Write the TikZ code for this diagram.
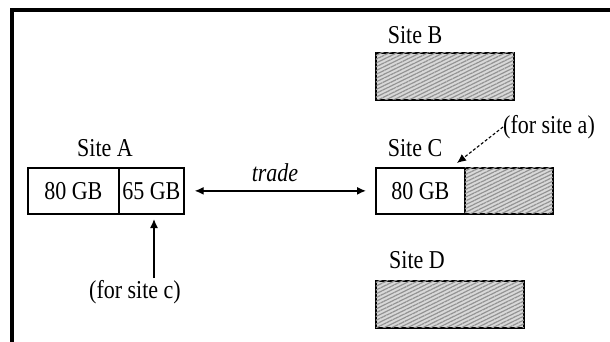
\documentclass[tikz,border=0pt]{standalone}
\usepackage{fontspec}
\setmainfont{Liberation Serif}
\usetikzlibrary{patterns.meta,arrows.meta}
\newcommand{\tx}[1]{\scalebox{1}[1.17]{#1}}
\tikzset{
  box/.style={draw, line width=1.7pt, inner sep=0pt, anchor=north west},
  hatched/.style={fill=gray!30, postaction={pattern={Lines[angle=26,distance=3.4pt,line width=1.2pt]}, pattern color=gray!85}},
  lbl/.style={font=\fontsize{22}{24}\selectfont, inner sep=0pt},
  arr/.style={line width=1.4pt, -{Latex[length=9pt,width=8pt]}},
}
\begin{document}
\begin{tikzpicture}[x=1pt,y=-1pt]
\useasboundingbox (0,0) rectangle (610,341);
\fill[white] (0,0) rectangle (610,341);
% outer frame (cut by the image)
\draw[line width=3.2pt] (12,345) -- (12,10) -- (615,10);
% Site A
\node[box, minimum width=91pt, minimum height=46pt] (a1) at (27,167) {};
\node[box, minimum width=65pt, minimum height=46pt] (a2) at (118,167) {};
\node[lbl] (a1t) at (a1.center) {\tx{80 GB}};
\node[lbl] (a2t) at (a2.center) {\tx{65 GB}};
\node[lbl] (sa) at (105,148) {\tx{Site A}};
% Site C
\node[box, minimum width=89pt, minimum height=46pt] (c1) at (375,167) {};
\node[box, hatched, minimum width=88pt, minimum height=46pt] (c2) at (464,167) {};
\node[lbl] (c1t) at (c1.center) {\tx{80 GB}};
\node[lbl] (sc) at (415,148) {\tx{Site C}};
% Site B
\node[box, hatched, minimum width=138pt, minimum height=47pt] (b) at (375,52) {};
\node[lbl] (sb) at (415,35) {\tx{Site B}};
% Site D
\node[box, hatched, minimum width=148pt, minimum height=47pt] (d) at (375,280) {};
\node[lbl] (sd) at (417,260) {\tx{Site D}};
% trade
\node[lbl, font=\fontsize{22}{24}\selectfont\itshape] (tr) at (275,173) {\tx{trade}};
\draw[line width=1.4pt, {Latex[length=9pt,width=8pt]}-{Latex[length=9pt,width=8pt]}] ([xshift=10pt]a2.east) -- ([xshift=-9pt]c1.west);
% for site c
\node[lbl] (fc) at (135,292) {\tx{(for site c)}};
\coordinate (fcs) at (154,278);
\coordinate (fce) at (154,219);
\draw[arr] (fcs) -- (fce);
% for site a
\node[lbl, anchor=west] (fa) at (503,127) {\tx{(for site a)}};
\coordinate (fae) at (457,163);
\draw[arr, line width=1.1pt, densely dashed] (fa.west) -- (fae);
\end{tikzpicture}
\end{document}
